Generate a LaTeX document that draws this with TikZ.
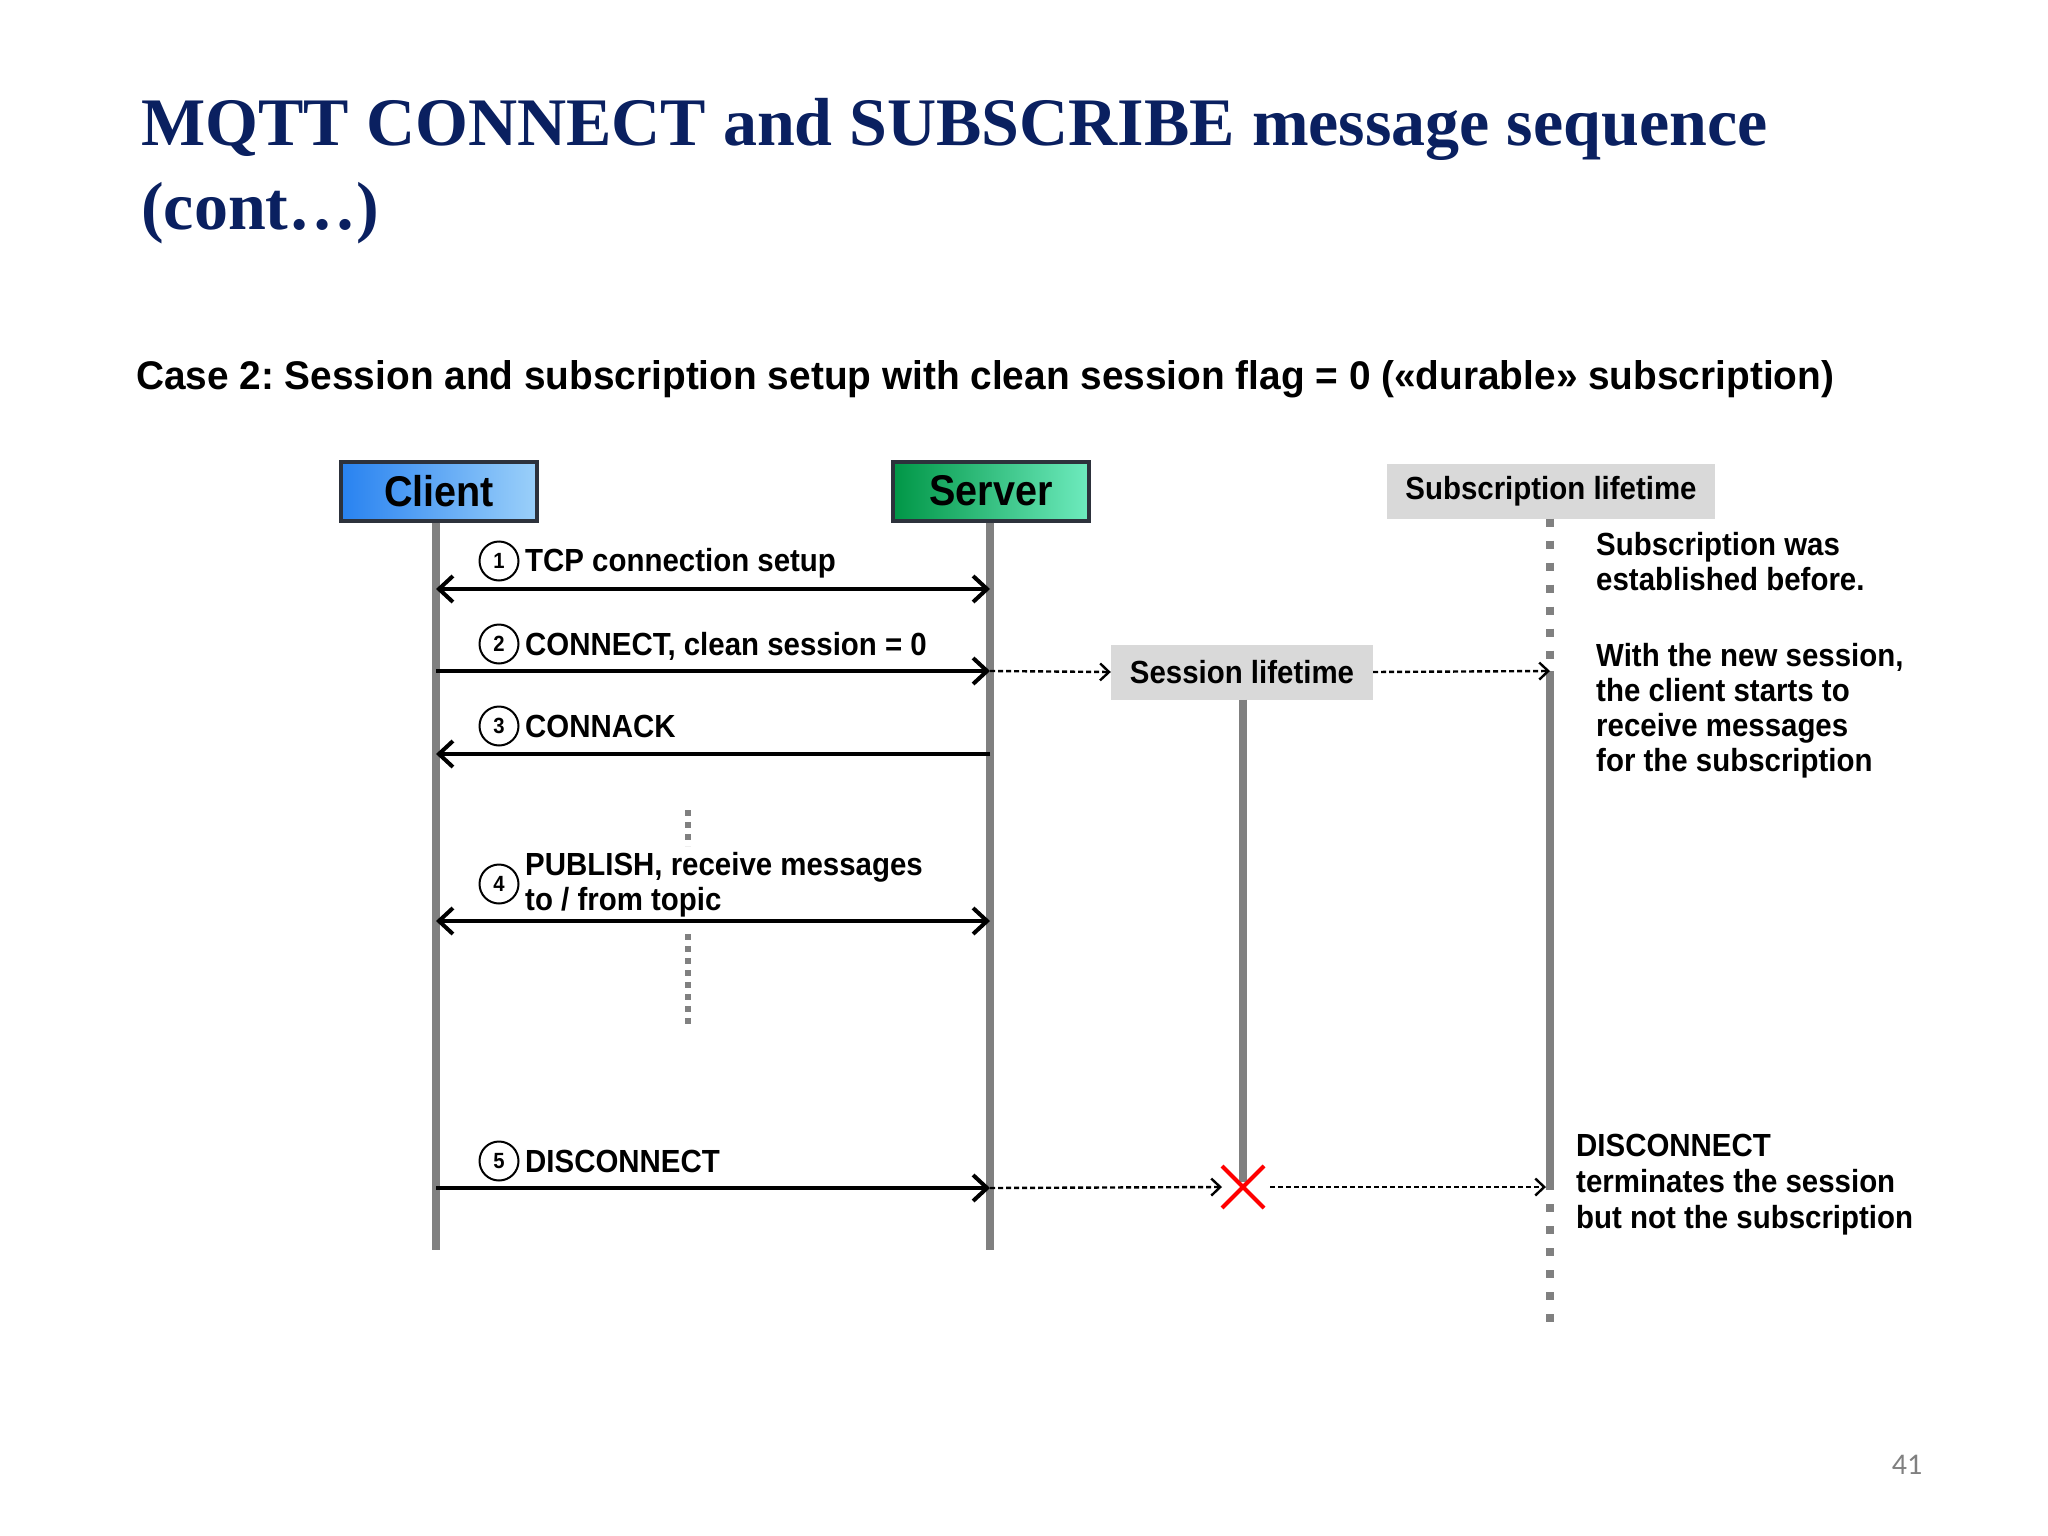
\documentclass[tikz,border=0pt]{standalone}
\usepackage{fontspec}
\setmainfont{Liberation Serif}
\newfontfamily\nsans[FakeStretch=0.92]{Liberation Sans}
\newfontfamily\wsans[FakeStretch=0.97]{Liberation Sans}
\newfontfamily\pnum{Carlito}
\usetikzlibrary{arrows.meta}
\definecolor{navy}{RGB}{10,32,96}
\definecolor{lgray}{RGB}{128,128,128}
\definecolor{boxgray}{RGB}{217,217,217}
\frenchspacing
\begin{document}
\begin{tikzpicture}[x=1pt,y=-1pt,
  lbl/.style={font=\nsans\bfseries\fontsize{32}{35}\selectfont, inner sep=0pt},
  actor/.style={draw={rgb,255:red,45;green,50;blue,60}, line width=4pt, minimum width=196pt, minimum height=59pt, inner sep=0pt, font=\nsans\bfseries\fontsize{43}{43}\selectfont},
  life/.style={fill=boxgray, inner sep=0pt, minimum height=55pt, font=\nsans\bfseries\fontsize{32}{32}\selectfont},
  lifeline/.style={draw=lgray, line width=8pt},
  dotline/.style={draw=lgray, line width=8pt, dash pattern=on 8pt off 14pt},
  msg/.style={line width=4pt, -{Straight Barb[length=14pt,width=26pt]}},
  dmsg/.style={line width=4pt, {Straight Barb[length=14pt,width=26pt]}-{Straight Barb[length=14pt,width=26pt]}},
  dsh/.style={line width=2.4pt, dash pattern=on 5pt off 3pt, -{Straight Barb[length=9pt,width=17pt]}},
  num/.style={circle, draw, line width=2pt, minimum size=39pt, inner sep=0pt, font=\nsans\bfseries\fontsize{22}{22}\selectfont}]
\useasboundingbox (0,0) rectangle (2048,1536);
\fill[white] (0,0) rectangle (2048,1536);

% title
\node[anchor=base west, inner sep=0pt, text=navy, font=\bfseries\fontsize{68}{82}\selectfont] (t1) at (141,146) {MQTT CONNECT and SUBSCRIBE message sequence};
\node[anchor=base west, inner sep=0pt, text=navy, font=\bfseries\fontsize{68}{82}\selectfont] (t2) at (141,229) {(cont\ldots)};
\node[anchor=base west, inner sep=0pt, font=\wsans\bfseries\fontsize{40}{40}\selectfont] (sub) at (136,389) {Case 2: Session and subscription setup with clean session flag = 0 («durable» subscription)};

% actors
\node[actor, left color={rgb,255:red,40;green,130;blue,240}, right color={rgb,255:red,155;green,208;blue,250}] (client) at (439,491) {Client};
\node[actor, left color={rgb,255:red,0;green,150;blue,70}, right color={rgb,255:red,110;green,235;blue,190}] (server) at (991,491) {Server};
\node[life, minimum width=328pt] (subl) at (1551,491) {Subscription lifetime};
\node[life, minimum width=262pt] (sesl) at (1242,672) {Session lifetime};

% lifelines
\coordinate (cend) at (436,1250);
\coordinate (send) at (990,1250);
\draw[lifeline] (client.south -| cend) -- (cend);
\draw[lifeline] (server.south -| send) -- (send);
\coordinate (sesend) at (1243,1182);
\draw[lifeline] (sesl.south -| sesend) -- (sesend);
\coordinate (sub1) at (1550,671);
\coordinate (sub2) at (1550,1188);
\coordinate (sub3) at (1550,1322);
\draw[dotline] (subl.south -| sub1) -- (sub1);
\draw[lifeline] (sub1) -- (sub2);
\draw[dotline] ([yshift=6pt]sub2) -- (sub3);

% messages
\coordinate (c1) at (436,589); \coordinate (s1) at (990,589);
\coordinate (c2) at (436,671); \coordinate (s2) at (990,671);
\coordinate (c3) at (436,754); \coordinate (s3) at (990,754);
\coordinate (c4) at (436,921); \coordinate (s4) at (990,921);
\coordinate (c5) at (436,1188); \coordinate (s5) at (990,1188);

\draw[dmsg] (c1) -- (s1);
\draw[msg] (c2) -- (s2);
\draw[msg] (s3) -- (c3);
\draw[dmsg] (c4) -- (s4);
\draw[msg] (c5) -- (s5);

\node[num] (n1) at (499,561) {1};
\node[num] (n2) at (499,644) {2};
\node[num] (n3) at (499,726) {3};
\node[num] (n4) at (499,884) {4};
\node[num] (n5) at (499,1161) {5};

\node[lbl, anchor=base west] (l1) at (525,571) {TCP connection setup};
\node[lbl, anchor=base west] (l2) at (525,655) {CONNECT, clean session = 0};
\node[lbl, anchor=base west] (l3) at (525,737) {CONNACK};
\node[lbl, anchor=base west] (l4a) at (525,875) {PUBLISH, receive messages};
\node[lbl, anchor=base west] (l4b) at (525,910) {to / from topic};
\node[lbl, anchor=base west] (l5) at (525,1172) {DISCONNECT};

% dotted continuation
\coordinate (d1) at (688,810); \coordinate (d2) at (688,846);
\coordinate (d3) at (688,934); \coordinate (d4) at (688,1028);
\draw[draw=lgray, line width=6pt, dash pattern=on 6pt off 6pt] (d1) -- (d2);
\draw[draw=lgray, line width=6pt, dash pattern=on 6pt off 6pt] (d3) -- (d4);

% dashed links
\draw[dsh] (s2) -- (sesl.west);
\draw[dsh] (sesl.east) -- (sub1);
\coordinate (x) at (1243,1187);
\draw[red, line width=4pt] (1222,1166) -- (1264,1208) (1222,1208) -- (1264,1166);
\coordinate (xl) at (1222,1187);
\coordinate (xr) at (1270,1187);
\draw[dsh] (s5) -- (xl);
\draw[dsh] (xr) -- (1546,1187);

% notes
\node[lbl, anchor=base west] (a1) at (1596,555) {Subscription was};
\node[lbl, anchor=base west] (a2) at (1596,590) {established before.};
\node[lbl, anchor=base west] (b1) at (1596,666) {With the new session,};
\node[lbl, anchor=base west] (b2) at (1596,701) {the client starts to};
\node[lbl, anchor=base west] (b3) at (1596,736) {receive messages};
\node[lbl, anchor=base west] (b4) at (1596,771) {for the subscription};
\node[lbl, anchor=base west] (e1) at (1576,1156) {DISCONNECT};
\node[lbl, anchor=base west] (e2) at (1576,1192) {terminates the session};
\node[lbl, anchor=base west] (e3) at (1576,1228) {but not the subscription};

\node[text=lgray, font=\pnum\fontsize{30}{30}\selectfont, inner sep=0pt] (pg) at (1907,1465) {41};
\end{tikzpicture}
\end{document}
